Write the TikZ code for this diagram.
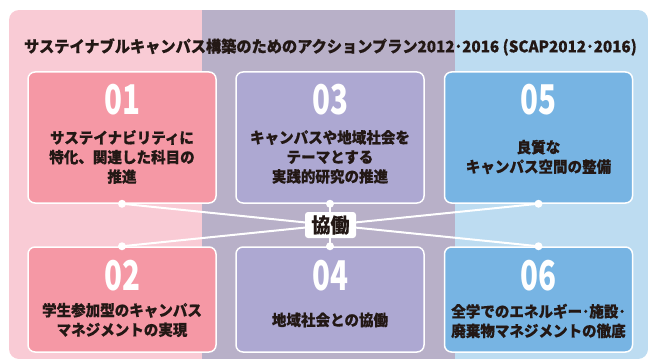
\documentclass[tikz,border=0pt]{standalone}
\usepackage{fontspec}
\newfontfamily\cjk[FakeStretch=0.95, BoldFeatures={FakeBold=0.4}]{Noto Sans CJK JP}
\newfontfamily\numfont[FakeStretch=0.72]{Noto Sans CJK JP}
\definecolor{pinkbg}{HTML}{F9CBD5}
\definecolor{purplebg}{HTML}{B8B0C8}
\definecolor{bluebg}{HTML}{BDDCF1}
\definecolor{pinkbox}{HTML}{F598A5}
\definecolor{purplebox}{HTML}{ADA8D2}
\definecolor{bluebox}{HTML}{77B4E3}
\definecolor{ink}{HTML}{231815}
\tikzset{
	plan/.style={draw=white, line width=1.5pt, rounded corners=7pt, minimum width=188pt, inner sep=0pt},
	num/.style={text=white, inner sep=0pt, font=\numfont\bfseries\fontsize{41}{41}\selectfont},
	goal/.style={text=ink, align=center, inner sep=0pt, font=\cjk\bfseries\fontsize{15.3}{19.5}\selectfont},
	joint/.style={circle, fill=white, inner sep=0pt, minimum size=8pt},
	link/.style={white, line width=2pt}
}
\begin{document}
\begin{tikzpicture}[x=1pt, y=-1pt]
	\useasboundingbox (0,0) rectangle (651,361);
	\begin{scope}
		\clip[rounded corners=10pt] (9,10) rectangle (648,359);
		\fill[pinkbg] (9,10) rectangle (202,359);
		\fill[purplebg] (202,10) rectangle (455,359);
		\fill[bluebg] (455,10) rectangle (648,359);
	\end{scope}
	\node[text=ink, inner sep=0pt, font=\cjk\bfseries\fontsize{16}{16}\selectfont] (title) at (330.5,47) {サステイナブルキャンパス構築のためのアクションプラン2012･2016 (SCAP2012･2016)};
	\foreach \n/\x/\c in {01/122/pinkbox, 03/330/purplebox, 05/538.5/bluebox}
		\node[plan, fill=\c, minimum height=131pt] (p\n) at (\x,137.5) {};
	\foreach \n/\x/\c in {02/122/pinkbox, 04/330/purplebox, 06/538.5/bluebox}
		\node[plan, fill=\c, minimum height=105pt] (p\n) at (\x,299.5) {};
	\foreach \n in {01, 03, 05}
		\node[num] at ([yshift=-28pt]p\n.north) {\n};
	\foreach \n in {02, 04, 06}
		\node[num] at ([yshift=-29pt]p\n.north) {\n};
	\node[goal] at (122,157) {サステイナビリティに\\特化、関連した科目の\\推進};
	\node[goal] at (330,157) {キャンパスや地域社会を\\テーマとする\\実践的研究の推進};
	\node[goal] at (538.5,157) {良質な\\キャンパス空間の整備};
	\node[goal] at (122,320) {学生参加型のキャンパス\\マネジメントの実現};
	\node[goal] at (330,320) {地域社会との協働};
	\node[goal] at (538.5,321) {全学でのエネルギー･施設･\\廃棄物マネジメントの徹底};
	\draw[link] (p01.south) -- (p06.north);
	\draw[link] (p02.north) -- (p05.south);
	\draw[link] (p03.south) -- (p04.north);
	\foreach \n in {01, 03, 05}
		\node[joint] at (p\n.south) {};
	\foreach \n in {02, 04, 06}
		\node[joint] at (p\n.north) {};
	\node[fill=white, rounded corners=3pt, minimum width=51pt, minimum height=26pt, inner sep=0pt, text=ink, font=\cjk\bfseries\fontsize{20}{20}\selectfont] (kyodo) at (330.5,225) {協働};
\end{tikzpicture}
\end{document}
